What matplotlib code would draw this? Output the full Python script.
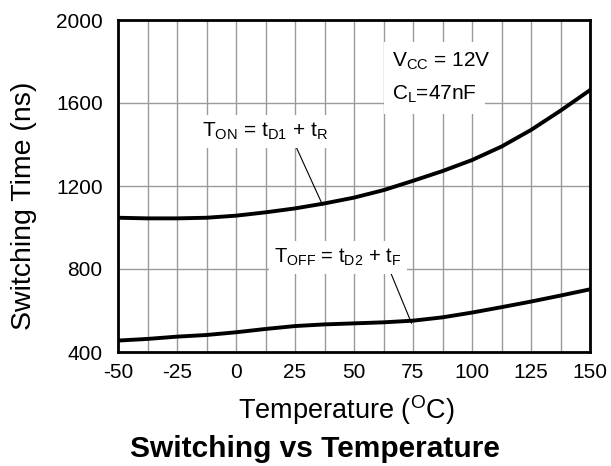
import numpy as np
import matplotlib
matplotlib.use("Agg")
import matplotlib.pyplot as plt

plt.rcParams['font.family'] = ['Liberation Sans', 'DejaVu Sans']
plt.rcParams['mathtext.fontset'] = 'custom'
plt.rcParams['mathtext.rm'] = 'Liberation Sans'
plt.rcParams['mathtext.it'] = 'Liberation Sans'
plt.rcParams['axes.unicode_minus'] = False

# Temperature (deg C) and switching times (ns), read every 12.5 deg C
temperature = [-50, -37.5, -25, -12.5, 0, 12.5, 25, 37.5, 50,
               62.5, 75, 87.5, 100, 112.5, 125, 137.5, 150]
t_on = [1047, 1044, 1044, 1047, 1057, 1073, 1092, 1116, 1144,
        1180, 1225, 1272, 1325, 1390, 1470, 1563, 1662]
t_off = [455, 463, 474, 482, 495, 511, 525, 533, 538,
         543, 551, 567, 590, 616, 643, 672, 702]

x_ticks = [-50, -25, 0, 25, 50, 75, 100, 125, 150]
y_ticks = [400, 800, 1200, 1600, 2000]

fig = plt.figure(figsize=(6.11, 4.66), dpi=100)
ax = fig.add_axes([118 / 611, 1 - 352 / 466, 472 / 611, 332 / 466])

ax.plot(temperature, t_on, color='black', lw=2.8, zorder=3, solid_joinstyle='round')
ax.plot(temperature, t_off, color='black', lw=2.8, zorder=3, solid_joinstyle='round')

ax.set_xlim(-50, 150)
ax.set_ylim(400, 2000)
ax.set_xticks(x_ticks)
ax.set_xticks(np.arange(-50, 151, 12.5), minor=True)
ax.set_yticks(y_ticks)
ax.grid(True, which='both', axis='x', color='#9a9a9a', lw=1.0)
ax.grid(True, which='major', axis='y', color='#9a9a9a', lw=1.0)
ax.tick_params(which='both', length=0, labelsize=15)
ax.tick_params(axis='x', pad=8)
ax.tick_params(axis='y', pad=11)
for s in ax.spines.values():
    s.set_linewidth(2.0)
    s.set_zorder(4)

ax.set_xlabel(r'Temperature ($^{\rm O}$C)', fontsize=19.5)
ax.xaxis.set_label_coords(0.483, -0.125)
ax.set_ylabel('Switching Time (ns)', fontsize=20.5)
ax.yaxis.set_label_coords(-0.172, 0.44)
fig.text(315 / 611, 1 - 456.7 / 466, 'Switching vs Temperature', fontsize=21.5,
         fontweight='bold', ha='center', va='baseline')

# curve labels with leader lines
box = dict(facecolor='white', edgecolor='none', pad=4)
ax.annotate(r'T$_{\rm ON}$ = t$_{\rm D1}$ + t$_{\rm R}$', xy=(36.7, 1108), xytext=(12.3, 1436),
            fontsize=15, ha='center', va='baseline', bbox=box,
            arrowprops=dict(arrowstyle='-', color='black', lw=0.8,
                            relpos=(0.73, 0.0), shrinkA=0, shrinkB=0))
ax.annotate(r'T$_{\rm OFF}$ = t$_{\rm D2}$ + t$_{\rm F}$', xy=(74.4, 538), xytext=(43.2, 829),
            fontsize=14.5, ha='center', va='baseline', bbox=box,
            arrowprops=dict(arrowstyle='-', color='black', lw=0.8,
                            relpos=(0.9, 0.0), shrinkA=0, shrinkB=0))

# test conditions
cond_box = dict(facecolor='white', edgecolor='none', pad=6)
ax.text(66.1, 1775, r'V$_{\rm CC}$ = 12V', fontsize=15, ha='left', va='baseline', bbox=cond_box)
ax.text(66.1, 1614, r'C$_{\rm L}$=47nF', fontsize=15, ha='left', va='baseline', bbox=cond_box)

fig.savefig('out.png', dpi=100)
